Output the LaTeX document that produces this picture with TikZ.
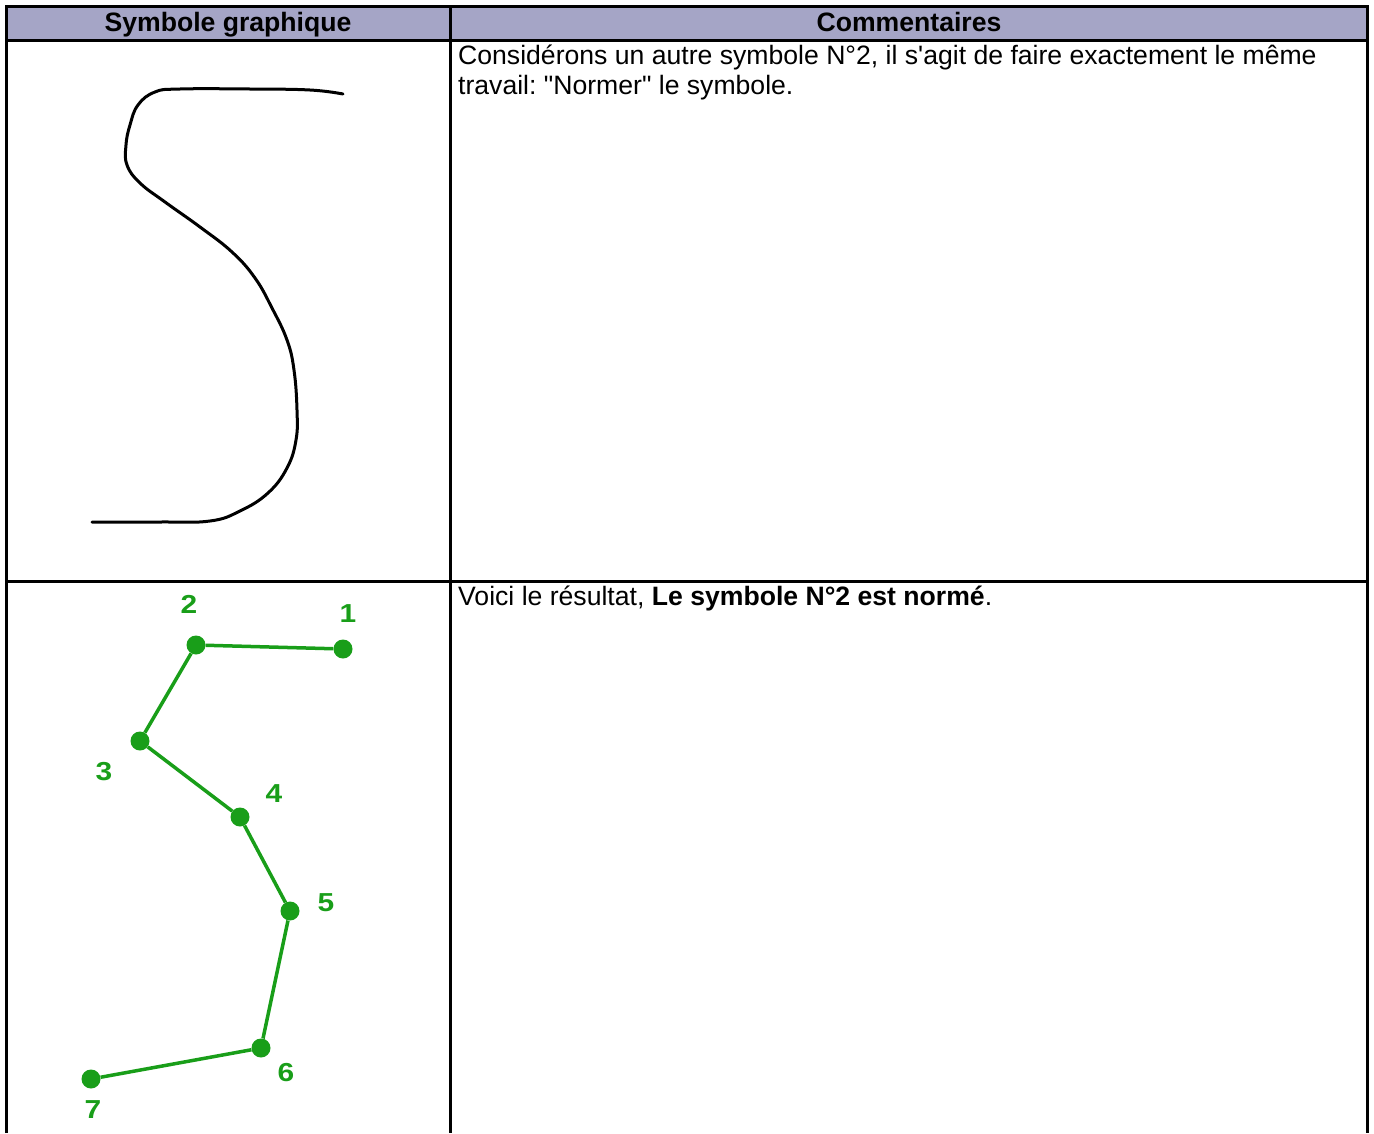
\documentclass[tikz,border=0pt]{standalone}
\usepackage{fontspec}
\setmainfont{Liberation Sans}[Ligatures=TeXOff]
\definecolor{hdr}{RGB}{165,165,198}
\definecolor{grn}{RGB}{25,158,25}
\frenchspacing
\begin{document}
\begin{tikzpicture}[x=1pt,y=-1pt,
  rule/.style={line width=3pt, black},
  body/.style={anchor=base west, inner sep=0pt, font=\fontsize{26.6}{30}\selectfont},
  hd/.style={anchor=base, inner sep=0pt, font=\fontsize{26.6}{30}\selectfont\bfseries},
  gpt/.style={circle, fill=grn, inner sep=0pt, minimum size=19pt},
  lbl/.style={text=grn, inner sep=0pt, font=\fontsize{26}{26}\selectfont\bfseries},
  seg/.style={grn, line width=3.5pt},
  stroke/.style={black, line width=3pt, line join=round, line cap=round}]
\useasboundingbox (0,0) rectangle (1374,1133);
% header band
\fill[hdr] (6.5,6.5) rectangle (1367.5,40);
% table rules
\draw[rule] (6.5,1133) -- (6.5,6.5) -- (1367.5,6.5) -- (1367.5,1133);
\draw[rule] (6.5,40) -- (1367.5,40);
\draw[rule] (6.5,581) -- (1367.5,581);
\draw[rule] (450,6.5) -- (450,1133);
% header texts
\node[hd] (h1) at (228,31) {Symbole graphique};
\node[hd] (h2) at (909,31) {Commentaires};
% comments
\node[body] (t1) at (458,64) {Considérons un autre symbole N°2, il s'agit de faire exactement le même};
\node[body] (t2) at (458,94) {travail: "Normer" le symbole.};
\node[body] (t3) at (458,605) {Voici le résultat, \textbf{Le symbole N°2 est normé}.};
% hand-drawn S
\draw[stroke] plot[smooth, tension=0.7] coordinates {(343,94) (310,90) (250,89) (180,89) (155,92) (138,105) (130,125) (126,145) (127,165) (140,183) (165,202) (200,227) (232,252) (255,278) (272,308) (287,340) (294,370) (297,410) (296,440) (287,468) (268,493) (240,511) (210,521) (160,522) (92,522)};
% normalized symbol
\node[gpt] (p1) at (343,649) {};
\node[gpt] (p2) at (196,645) {};
\node[gpt] (p3) at (140,741) {};
\node[gpt] (p4) at (240,817) {};
\node[gpt] (p5) at (290,911) {};
\node[gpt] (p6) at (261,1048) {};
\node[gpt] (p7) at (91,1079) {};
\draw[seg] (p1) -- (p2) -- (p3) -- (p4) -- (p5) -- (p6) -- (p7);
\node[lbl] (l1) at (348,614) {\scalebox{1.15}[1]{1}};
\node[lbl] (l2) at (189,604) {\scalebox{1.15}[1]{2}};
\node[lbl] (l3) at (104,772) {\scalebox{1.15}[1]{3}};
\node[lbl] (l4) at (274,794) {\scalebox{1.15}[1]{4}};
\node[lbl] (l5) at (326,903) {\scalebox{1.15}[1]{5}};
\node[lbl] (l6) at (286,1073) {\scalebox{1.15}[1]{6}};
\node[lbl] (l7) at (93,1110) {\scalebox{1.15}[1]{7}};
\end{tikzpicture}
\end{document}
